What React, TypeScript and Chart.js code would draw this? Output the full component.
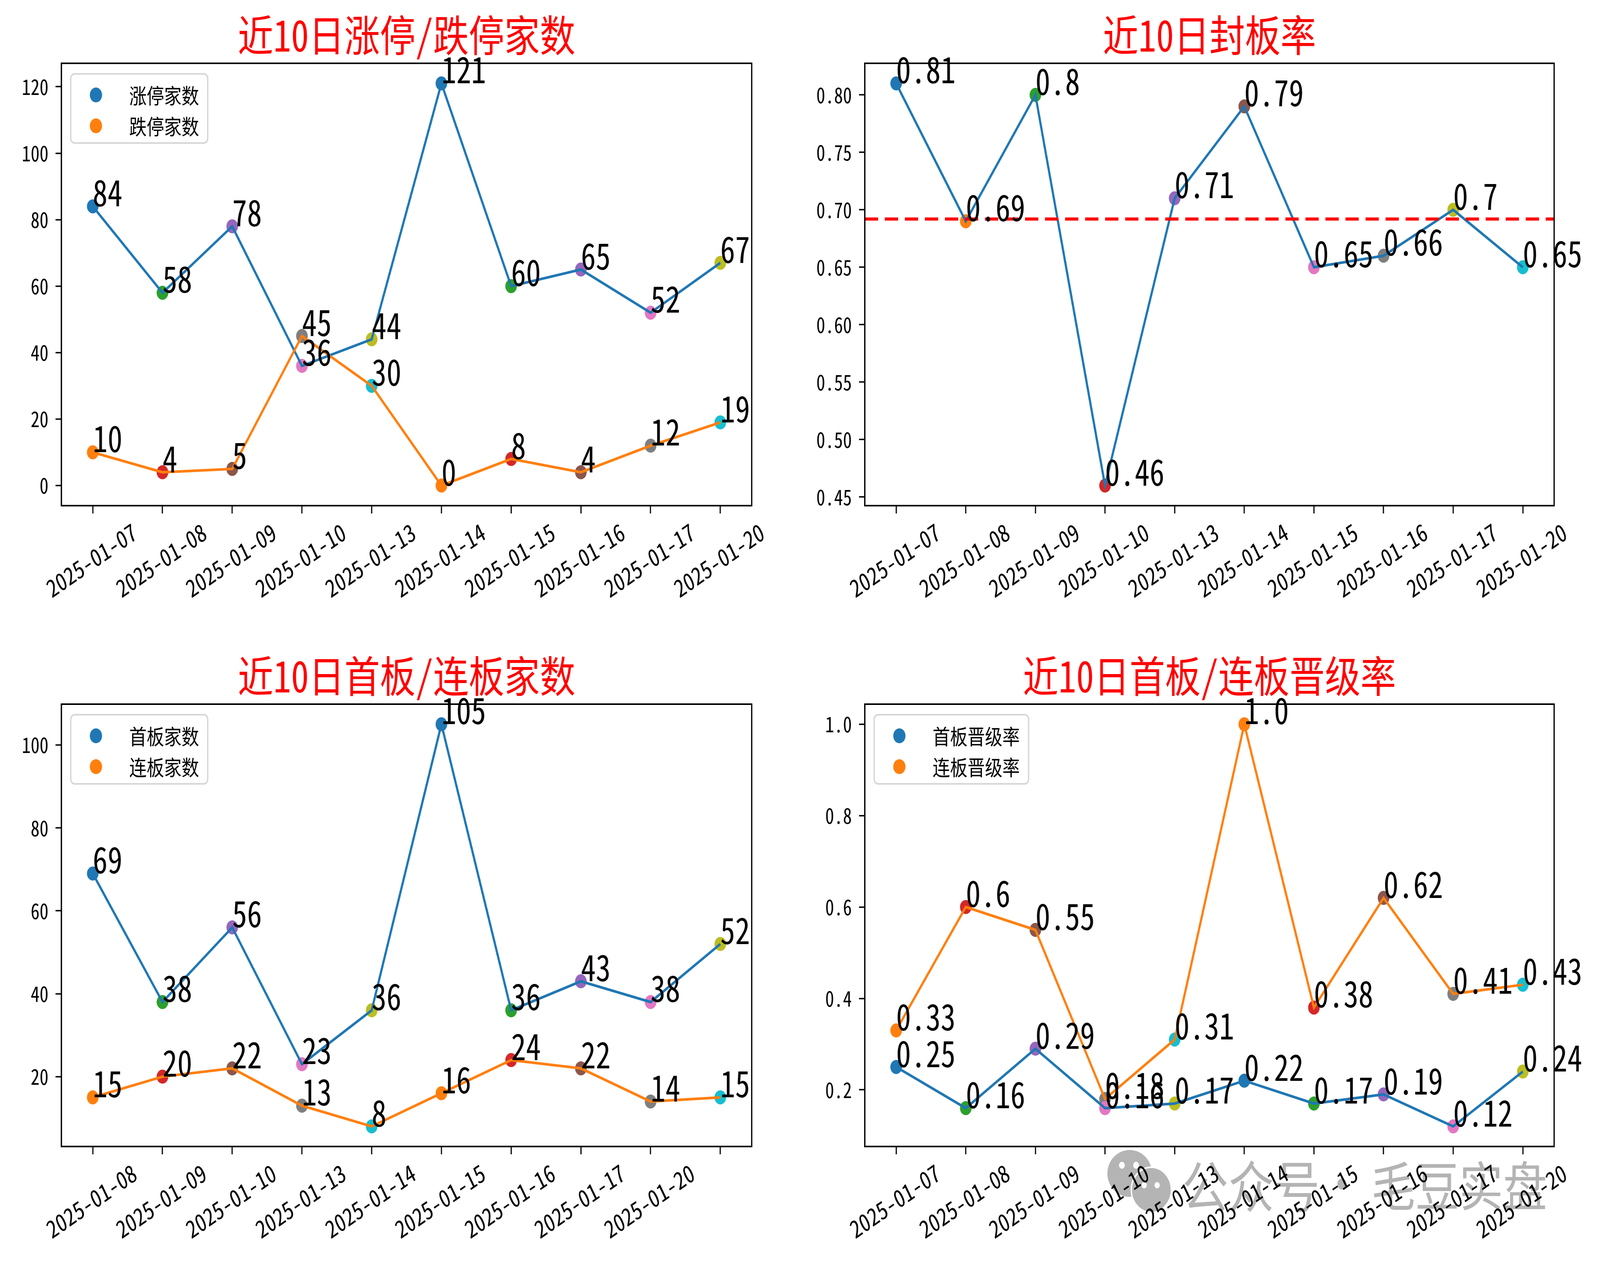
import React, { useEffect, useRef } from 'react';
import { Chart, registerables } from 'chart.js';

Chart.register(...registerables);

// ---- data ----
const datesTop = ['2025-01-07', '2025-01-08', '2025-01-09', '2025-01-10', '2025-01-13', '2025-01-14', '2025-01-15', '2025-01-16', '2025-01-17', '2025-01-20'];
const datesBoard = ['2025-01-08', '2025-01-09', '2025-01-10', '2025-01-13', '2025-01-14', '2025-01-15', '2025-01-16', '2025-01-17', '2025-01-20'];

const limitUpCount = [84, 58, 78, 36, 44, 121, 60, 65, 52, 67];
const limitDownCount = [10, 4, 5, 45, 30, 0, 8, 4, 12, 19];
const sealRate = [0.81, 0.69, 0.8, 0.46, 0.71, 0.79, 0.65, 0.66, 0.7, 0.65];
const firstBoardCount = [69, 38, 56, 23, 36, 105, 36, 43, 38, 52];
const multiBoardCount = [15, 20, 22, 13, 8, 16, 24, 22, 14, 15];
const firstBoardRate = [0.25, 0.16, 0.29, 0.16, 0.17, 0.22, 0.17, 0.19, 0.12, 0.24];
const multiBoardRate = [0.33, 0.6, 0.55, 0.18, 0.31, 1.0, 0.38, 0.62, 0.41, 0.43];

const countTicksTop = [0, 20, 40, 60, 80, 100, 120];
const sealTicks = [0.45, 0.5, 0.55, 0.6, 0.65, 0.7, 0.75, 0.8];
const countTicksBoard = [20, 40, 60, 80, 100];
const rateTicks = [0.2, 0.4, 0.6, 0.8, 1.0];

const TAB10 = ['#1f77b4', '#ff7f0e', '#2ca02c', '#d62728', '#9467bd', '#8c564b', '#e377c2', '#7f7f7f', '#bcbd22', '#17becf'];
const FONT = "'Noto Sans Mono CJK SC', 'Noto Sans CJK SC', sans-serif";

// figure is laid out at the reference size, then fitted to the real viewport
const FIG_W = 4953;
const FIG_H = 3227;

interface Series {
  name: string;
  values: number[];
}

interface PanelProps {
  title: string;
  dates: string[];
  series: Series[];
  yTicks: number[];
  tickDigits: number;
  rate: boolean;
  showMean?: boolean;
  left: number;
  top: number;
  width: number;
  padRight: number;
}

const PANEL_H = 1587;
const Y_AXIS_W = 161;
const X_AXIS_H = 293;

const fmtValue = (v: number, rate: boolean) => (rate && Number.isInteger(v) ? v.toFixed(1) : String(v));

const Panel: React.FC<PanelProps> = ({ title, dates, series, yTicks, tickDigits, rate, showMean, left, top, width, padRight }) => {
  const canvasRef = useRef<HTMLCanvasElement | null>(null);

  useEffect(() => {
    if (!canvasRef.current) return;
    const n = series[0].values.length;
    const all = series.flatMap((s) => s.values);
    const lo = Math.min(...all);
    const hi = Math.max(...all);
    const pad = (hi - lo) * 0.05;
    const xMin = -(n - 1) * 0.05;
    const xMax = n - 1 + (n - 1) * 0.05;

    const datasets: any[] = [];
    if (showMean) {
      const mean = series[0].values.reduce((a, b) => a + b, 0) / n;
      datasets.push({
        data: [{ x: xMin, y: mean }, { x: xMax, y: mean }],
        borderColor: '#ff0000',
        borderWidth: 8,
        borderDash: [41, 21],
        pointRadius: 0,
        order: 0,
      });
    }
    series.forEach((s, si) => {
      datasets.push({
        label: s.name,
        data: s.values.map((v, i) => ({ x: i, y: v })),
        borderColor: TAB10[si],
        borderWidth: 6.7,
        pointRadius: 0,
        tension: 0,
        order: 10 - si,
      });
      // one colour per point, cycling like matplotlib's per-call scatter
      datasets.push({
        data: s.values.map((v, i) => ({ x: i, y: v })),
        showLine: false,
        pointRadius: 18,
        pointBorderWidth: 0,
        pointBackgroundColor: s.values.map((_, i) => TAB10[(i * series.length + si) % 10]),
        order: 20 + si,
      });
    });

    const overlay = {
      id: 'mplOverlay',
      afterDatasetsDraw(chart: any) {
        const { ctx, chartArea: a, scales } = chart;
        const xs = scales.x;
        const ys = scales.y;
        ctx.save();
        // full box
        ctx.strokeStyle = '#000';
        ctx.lineWidth = 4;
        ctx.strokeRect(a.left, a.top, a.right - a.left, a.bottom - a.top);
        // value labels at each point
        ctx.fillStyle = '#000';
        ctx.font = `92px ${FONT}`;
        ctx.textAlign = 'left';
        ctx.textBaseline = 'alphabetic';
        series.forEach((s) => {
          s.values.forEach((v, i) => {
            ctx.fillText(fmtValue(v, rate), xs.getPixelForValue(i), ys.getPixelForValue(v));
          });
        });
        // legend, upper left inside the axes
        if (series.length > 1) {
          ctx.font = `54px ${FONT}`;
          const textW = Math.max(...series.map((s) => ctx.measureText(s.name).width));
          const bx = a.left + 29;
          const by = a.top + 27;
          const bw = 210 - 29 + textW + 27;
          const bh = 177;
          ctx.beginPath();
          ctx.roundRect(bx, by, bw, bh, 12);
          ctx.fillStyle = 'rgba(255,255,255,0.8)';
          ctx.fill();
          ctx.strokeStyle = '#d6d6d6';
          ctx.lineWidth = 4;
          ctx.stroke();
          series.forEach((s, si) => {
            const ry = a.top + 81 + si * 79;
            ctx.beginPath();
            ctx.arc(a.left + 107, ry, 19, 0, Math.PI * 2);
            ctx.fillStyle = TAB10[si];
            ctx.fill();
            ctx.fillStyle = '#000';
            ctx.textBaseline = 'middle';
            ctx.fillText(s.name, a.left + 210, ry + 2);
          });
        }
        ctx.restore();
      },
    };

    const chart = new Chart(canvasRef.current, {
      type: 'line',
      data: { datasets },
      options: {
        animation: false,
        responsive: true,
        maintainAspectRatio: false,
        devicePixelRatio: 1,
        layout: { padding: { top: 35, right: padRight, bottom: 0, left: 0 } },
        plugins: {
          legend: { display: false },
          tooltip: { enabled: false },
          title: {
            display: true,
            text: title,
            color: '#ff0000',
            fullSize: false,
            font: { family: FONT, size: 110, weight: 'normal', lineHeight: 1 },
            padding: { top: 0, bottom: 17 },
          },
        },
        scales: {
          x: {
            type: 'linear',
            min: xMin,
            max: xMax,
            afterBuildTicks: (s: any) => {
              s.ticks = series[0].values.map((_, i) => ({ value: i }));
            },
            afterFit: (s: any) => {
              s.height = X_AXIS_H;
            },
            ticks: {
              autoSkip: false,
              minRotation: 30,
              maxRotation: 30,
              labelOffset: 130,
              padding: 10,
              color: '#000',
              font: { family: FONT, size: 62 },
              callback: (v: any) => dates[v] ?? '',
            },
            grid: { drawOnChartArea: false, tickLength: 20, tickWidth: 3.6, tickColor: '#000' },
            border: { color: '#000', width: 4 },
          },
          y: {
            type: 'linear',
            min: lo - pad,
            max: hi + pad,
            afterBuildTicks: (s: any) => {
              s.ticks = yTicks.map((value) => ({ value }));
            },
            afterFit: (s: any) => {
              s.width = Y_AXIS_W;
            },
            ticks: {
              padding: 22,
              color: '#000',
              font: { family: FONT, size: 55 },
              callback: (v: any) => Number(v).toFixed(tickDigits),
            },
            grid: { drawOnChartArea: false, tickLength: 18, tickWidth: 3.6, tickColor: '#000' },
            border: { color: '#000', width: 4 },
          },
        },
      },
      plugins: [overlay],
    } as any);

    return () => {
      chart.destroy();
    };
  }, []);

  return (
    <div style={{ position: 'absolute', left, top, width, height: PANEL_H }}>
      <canvas ref={canvasRef}></canvas>
    </div>
  );
};

const Watermark: React.FC = () => {
  const gray = '#b4b4b4';
  return (
    <div style={{ position: 'absolute', left: 0, top: 0, width: FIG_W, height: FIG_H, pointerEvents: 'none' }}>
      <div style={{ position: 'absolute', left: 3428, top: 2943, width: 138, height: 120, borderRadius: '50%', background: gray }}>
        <div style={{ position: 'absolute', left: 36, top: 30, width: 18, height: 18, borderRadius: '50%', background: '#fff' }} />
        <div style={{ position: 'absolute', left: 80, top: 30, width: 18, height: 18, borderRadius: '50%', background: '#fff' }} />
      </div>
      <div style={{ position: 'absolute', left: 3500, top: 2985, width: 120, height: 112, borderRadius: '50%', background: gray, border: '4px solid #fff' }}>
        <div style={{ position: 'absolute', left: 30, top: 36, width: 16, height: 16, borderRadius: '50%', background: '#fff' }} />
        <div style={{ position: 'absolute', left: 70, top: 36, width: 16, height: 16, borderRadius: '50%', background: '#fff' }} />
      </div>
      <div style={{ position: 'absolute', left: 3660, top: 2957, fontFamily: "'Noto Sans CJK SC', sans-serif", fontSize: 142, lineHeight: '142px', color: gray, whiteSpace: 'nowrap' }}>
        公众号
      </div>
      <div style={{ position: 'absolute', left: 4140, top: 3016, width: 28, height: 28, borderRadius: '50%', background: gray }} />
      <div style={{ position: 'absolute', left: 4245, top: 2957, fontFamily: "'Noto Sans CJK SC', sans-serif", fontSize: 136, lineHeight: '142px', color: gray, whiteSpace: 'nowrap' }}>
        毛豆实盘
      </div>
    </div>
  );
};

const App: React.FC = () => {
  const vw = window.innerWidth || FIG_W;
  const vh = window.innerHeight || FIG_H;
  const sx = vw / FIG_W;
  const sy = vh / FIG_H;

  return (
    <div style={{ position: 'fixed', left: 0, top: 0, width: vw, height: vh, background: '#fff', overflow: 'hidden' }}>
      <div style={{ position: 'absolute', left: 0, top: 0, width: FIG_W, height: FIG_H, transform: `scale(${sx}, ${sy})`, transformOrigin: '0 0' }}>
        <Watermark />
        <Panel
          title="近10日涨停/跌停家数"
          dates={datesTop}
          series={[
            { name: '涨停家数', values: limitUpCount },
            { name: '跌停家数', values: limitDownCount },
          ]}
          yTicks={countTicksTop}
          tickDigits={0}
          rate={false}
          left={0}
          top={0}
          width={2476}
          padRight={149}
        />
        <Panel
          title="近10日封板率"
          dates={datesTop}
          series={[{ name: '封板率', values: sealRate }]}
          yTicks={sealTicks}
          tickDigits={2}
          rate={true}
          showMean
          left={2487}
          top={0}
          width={2466}
          padRight={142}
        />
        <Panel
          title="近10日首板/连板家数"
          dates={datesBoard}
          series={[
            { name: '首板家数', values: firstBoardCount },
            { name: '连板家数', values: multiBoardCount },
          ]}
          yTicks={countTicksBoard}
          tickDigits={0}
          rate={false}
          left={0}
          top={1640}
          width={2476}
          padRight={149}
        />
        <Panel
          title="近10日首板/连板晋级率"
          dates={datesTop}
          series={[
            { name: '首板晋级率', values: firstBoardRate },
            { name: '连板晋级率', values: multiBoardRate },
          ]}
          yTicks={rateTicks}
          tickDigits={1}
          rate={true}
          left={2487}
          top={1640}
          width={2466}
          padRight={142}
        />
      </div>
    </div>
  );
};

export default App;
